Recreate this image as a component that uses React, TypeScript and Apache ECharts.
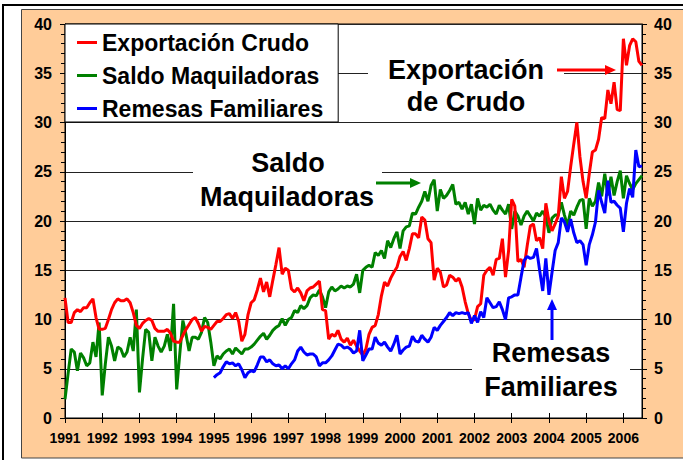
import React, { useEffect, useRef } from 'react';
import * as echarts from 'echarts';

// Year tick labels and months
const years = ['1991', '1992', '1993', '1994', '1995', '1996', '1997', '1998', '1999', '2000', '2001', '2002', '2003', '2004', '2005', '2006'];
const monthCodes = ['01', '02', '03', '04', '05', '06', '07', '08', '09', '10', '11', '12'];
const monthCount = 187; // Jan 1991 .. Jul 2006

// Series names
const seriesNames = ['Exportación Crudo', 'Saldo Maquiladoras', 'Remesas Familiares'];

// Exportación Crudo (monthly, from Jan 1991)
const exportacionCrudo = [
  12.2, 9.7, 9.7, 10.7, 11.0, 10.8, 11.2, 11.2, 11.7, 12.1, 10.2, 9.0,
  9.0, 9.1, 10.0, 11.0, 11.7, 12.1, 11.9, 11.9, 12.1, 11.7, 10.7, 9.4,
  9.1, 9.6, 9.9, 10.1, 9.9, 9.1, 8.8, 8.8, 8.8, 9.0, 8.6, 7.8,
  7.7, 7.7, 8.4, 9.0, 9.5, 10.0, 10.2, 9.6, 8.8, 9.3, 9.2, 9.0,
  9.4, 9.8, 9.8, 10.1, 10.5, 10.6, 10.1, 10.7, 9.8, 7.8, 8.5, 10.5,
  11.7, 12.0, 13.0, 14.2, 12.8, 13.8, 12.3, 14.0, 15.6, 17.3, 14.6, 15.2,
  15.0, 13.1, 12.8, 13.2, 12.7, 11.9, 12.9, 13.2, 13.3, 13.6, 13.9, 11.0,
  10.9, 8.0, 8.5, 8.3, 8.9, 8.0, 7.7, 8.1, 7.4, 7.9, 7.3, 6.8,
  6.4, 7.0, 8.5, 9.2, 9.4, 10.5, 12.4, 13.8, 13.4, 14.2, 14.8, 15.3,
  16.4, 16.9, 16.0, 17.2, 18.7, 18.7, 18.3, 20.4, 20.1, 18.2, 17.8, 14.0,
  15.2, 14.8, 13.3, 13.5, 14.5, 14.3, 13.9, 14.2, 13.3, 11.8, 10.6, 9.9,
  10.0, 11.3, 11.6, 14.5, 15.0, 15.3, 14.5, 16.1, 16.2, 18.2, 14.3, 17.0,
  22.2, 21.5, 15.9, 16.1, 15.3, 17.5, 19.5, 19.7, 18.0, 18.3, 17.2, 21.8,
  20.0, 19.0, 19.7, 20.5, 24.5, 22.3, 23.0, 25.5, 27.8, 30.0, 26.5, 24.0,
  22.3, 24.8, 27.0, 27.2, 28.3, 30.5, 30.4, 33.3, 31.9, 34.1, 31.3, 31.2,
  38.5, 35.8, 37.8, 38.5, 38.2, 36.2, 35.8,
];

// Saldo Maquiladoras (monthly, from Jan 1991)
const saldoMaquiladoras = [
  1.9, 4.5, 7.0, 6.7, 4.8, 6.6, 6.1, 5.3, 5.6, 7.7, 6.2, 9.7,
  2.3, 5.5, 8.2, 7.3, 5.8, 7.2, 7.0, 6.2, 6.7, 8.2, 6.8, 11.0,
  2.6, 6.0, 9.0, 8.7, 5.8, 8.2, 7.3, 6.7, 7.3, 8.5, 6.8, 11.6,
  2.9, 6.5, 9.9, 8.5, 6.8, 8.2, 8.2, 8.0, 8.7, 10.2, 9.7, 7.7,
  5.3, 6.3, 6.0, 6.5, 6.8, 7.0, 6.5, 7.1, 6.8, 6.5, 7.0, 7.0,
  7.2, 7.5, 7.9, 8.3, 8.6, 8.0, 8.4, 8.9, 9.2, 9.4, 10.1, 9.4,
  10.0, 10.2, 10.9, 10.7, 11.4, 11.1, 11.4, 12.2, 12.5, 12.4, 13.0, 12.3,
  11.2, 12.8, 13.3, 12.9, 13.1, 13.4, 13.2, 13.4, 13.3, 13.6, 14.6, 12.7,
  15.0, 15.3, 15.5, 15.3, 16.8, 16.5, 17.0, 16.2, 18.0, 17.3, 18.2, 18.9,
  17.2, 19.0, 19.4, 19.5, 20.8, 20.7, 21.4, 22.0, 23.0, 22.0, 23.6, 24.2,
  21.0, 23.2, 22.3, 22.6, 23.1, 23.7, 21.7, 21.9, 21.2, 21.9, 20.7, 21.7,
  19.7, 22.3, 21.1, 21.6, 21.4, 21.7, 21.1, 20.7, 21.6, 21.1, 20.7, 21.7,
  19.2, 21.0, 20.5, 19.6, 20.5, 21.0, 20.5, 20.0, 20.8, 20.5, 21.0, 20.4,
  18.8, 20.3, 20.6, 20.6, 21.9, 20.6, 19.5, 21.0, 20.6, 21.4, 22.1, 22.2,
  19.2, 22.3, 21.5, 22.0, 23.9, 22.5, 24.8, 22.6, 24.5, 22.6, 24.0, 25.1,
  22.3, 24.6, 23.8, 23.2, 23.8, 24.2, 24.6,
];

// Remesas Familiares (monthly, from Jan 1995)
const remesasStartYear = '1995';
const remesasFamiliares = [
  4.1, 4.4, 4.6, 5.2, 5.7, 5.5, 5.6, 5.3, 5.5, 4.9, 4.1, 4.6,
  4.8, 4.7, 5.4, 6.2, 6.2, 5.7, 5.9, 5.5, 5.3, 5.4, 5.0, 5.3,
  5.0, 5.5, 5.9, 6.8, 7.2, 6.7, 6.4, 6.5, 6.5, 6.2, 5.3, 5.6,
  5.6, 5.9, 6.3, 6.9, 7.5, 7.4, 7.1, 7.2, 7.0, 6.6, 6.8, 8.9,
  5.8, 6.4, 7.0, 7.0, 8.2, 7.6, 7.4, 7.7, 7.2, 6.8, 7.5, 8.4,
  6.5, 6.9, 7.2, 7.3, 8.3, 7.8, 7.7, 8.4, 8.0, 7.7, 8.2, 9.2,
  8.9, 9.4, 9.8, 10.2, 10.7, 10.4, 10.7, 10.6, 10.7, 10.6, 10.7, 9.6,
  10.4, 9.7, 10.8, 10.2, 12.2, 11.7, 11.2, 11.3, 11.8, 11.0, 10.0, 12.2,
  12.3, 12.5, 12.5, 14.3, 16.0, 16.4, 16.2, 16.3, 17.2, 15.0, 12.9, 16.2,
  12.5, 14.8, 17.0, 17.8, 20.3, 19.9, 18.9, 20.2, 18.8, 17.8, 18.0, 17.6,
  15.5, 17.6, 18.6, 19.9, 23.1, 21.9, 20.8, 24.1, 21.9, 22.0, 21.6, 21.3,
  18.9, 21.8, 23.3, 22.4, 27.2, 25.5, 25.6,
];

const yTicks = { min: 0, max: 40, interval: 5 };

const FONT = '"Liberation Sans", Arial, Helvetica, sans-serif';

function buildOption() {
  const categories = years
    .flatMap((y) => monthCodes.map((m) => `${y}-${m}`))
    .slice(0, monthCount);
  const remesasOffset = categories.indexOf(`${remesasStartYear}-01`);
  const remesasData = categories.map((_, i) =>
    i >= remesasOffset ? remesasFamiliares[i - remesasOffset] : null
  );
  const isYearStart = (index: number) => index % 12 === 0;

  const yAxisCommon = {
    type: 'value',
    min: yTicks.min,
    max: yTicks.max,
    interval: yTicks.interval,
    axisLine: { show: true, lineStyle: { color: '#000', width: 1 } },
    axisTick: { show: true, inside: false, length: 5, lineStyle: { color: '#000' } },
    minorTick: { show: true, splitNumber: 5, length: 4, lineStyle: { color: '#000' } },
    axisLabel: { color: '#000', fontSize: 16, fontWeight: 'bold', fontFamily: FONT },
  };

  const annotationText = (text: string, x: number, y: number) => ({
    type: 'text',
    z: 6,
    x,
    y,
    style: {
      text,
      fill: '#000',
      font: `bold 27px ${FONT}`,
      textAlign: 'center',
      textVerticalAlign: 'middle',
      align: 'center',
      verticalAlign: 'middle',
    },
  });

  const whiteBox = (x: number, y: number, w: number, h: number) => ({
    type: 'rect',
    z: 1,
    shape: { x, y, width: w, height: h },
    style: { fill: '#fff' },
    silent: true,
  });

  return {
    animation: false,
    backgroundColor: '#fff',
    grid: {
      left: 65,
      top: 24,
      right: 41,
      bottom: 42,
      show: true,
      backgroundColor: '#fff',
      borderColor: '#000',
      borderWidth: 1,
      containLabel: false,
    },
    legend: {
      data: seriesNames,
      orient: 'vertical',
      left: 65,
      top: 24,
      padding: [7, 15, 2, 12],
      itemGap: 10,
      itemWidth: 20,
      itemHeight: 3,
      icon: 'rect',
      backgroundColor: '#fff',
      borderColor: '#000',
      borderWidth: 1,
      textStyle: { color: '#000', fontSize: 23, fontWeight: 'bold', fontFamily: FONT },
    },
    xAxis: [
      {
        type: 'category',
        data: categories,
        boundaryGap: false,
        axisLine: { show: true, lineStyle: { color: '#000', width: 1 } },
        axisTick: { show: true, inside: false, length: 5, interval: isYearStart, lineStyle: { color: '#000' } },
        axisLabel: {
          interval: isYearStart,
          formatter: (v: string) => v.slice(0, 4),
          color: '#000',
          fontSize: 14,
          fontWeight: 'bold',
          fontFamily: FONT,
          margin: 13,
        },
        splitLine: { show: false },
      },
      {
        type: 'category',
        data: categories,
        boundaryGap: false,
        position: 'bottom',
        axisLine: { show: false },
        axisTick: { show: true, inside: true, length: 5, interval: isYearStart, lineStyle: { color: '#000' } },
        axisLabel: { show: false },
        splitLine: { show: false },
      },
    ],
    yAxis: [
      {
        ...yAxisCommon,
        position: 'left',
        axisLabel: { ...yAxisCommon.axisLabel, margin: 13 },
        splitLine: { show: true, lineStyle: { color: '#222', width: 1 } },
      },
      {
        ...yAxisCommon,
        position: 'right',
        axisLabel: { ...yAxisCommon.axisLabel, margin: 12 },
        splitLine: { show: false },
      },
    ],
    series: [
      {
        name: seriesNames[1],
        type: 'line',
        data: saldoMaquiladoras,
        symbol: 'none',
        color: '#008000',
        lineStyle: { color: '#008000', width: 3 },
        z: 2,
      },
      {
        name: seriesNames[0],
        type: 'line',
        data: exportacionCrudo,
        symbol: 'none',
        color: '#FF0000',
        lineStyle: { color: '#FF0000', width: 3 },
        z: 3,
      },
      {
        name: seriesNames[2],
        type: 'line',
        data: remesasData,
        symbol: 'none',
        color: '#0000FF',
        lineStyle: { color: '#0000FF', width: 3 },
        z: 4,
      },
    ],
    graphic: [
      {
        type: 'rect',
        z: -20,
        silent: true,
        shape: { x: 3, y: 5, width: 720, height: 480 },
        style: { fill: '#fff', stroke: '#000', lineWidth: 2 },
      },
      {
        type: 'rect',
        z: -19,
        silent: true,
        shape: { x: 21.5, y: 9.5, width: 720, height: 448.5 },
        style: { fill: '#FFCC99', stroke: '#444', lineWidth: 1 },
      },
      whiteBox(368, 48, 196, 70),
      whiteBox(193, 143, 189, 72),
      whiteBox(472, 334, 158, 72),
      annotationText('Exportación', 466, 70),
      annotationText('de Crudo', 466, 102),
      annotationText('Saldo', 288, 163),
      annotationText('Maquiladoras', 287, 197),
      annotationText('Remesas', 551, 353),
      annotationText('Familiares', 551, 387),
      // Red arrow
      { type: 'line', z: 6, shape: { x1: 557, y1: 70, x2: 607, y2: 70 }, style: { stroke: '#FF0000', lineWidth: 3 } },
      { type: 'polygon', z: 6, shape: { points: [[605, 65], [616, 70], [605, 75]] }, style: { fill: '#FF0000' } },
      // Green arrow
      { type: 'line', z: 6, shape: { x1: 376, y1: 183, x2: 412, y2: 183 }, style: { stroke: '#008000', lineWidth: 3 } },
      { type: 'polygon', z: 6, shape: { points: [[410, 178], [421, 183], [410, 188]] }, style: { fill: '#008000' } },
      // Blue arrow
      { type: 'line', z: 6, shape: { x1: 552, y1: 340, x2: 552, y2: 308 }, style: { stroke: '#0000FF', lineWidth: 3 } },
      { type: 'polygon', z: 6, shape: { points: [[547, 310], [552, 299], [557, 310]] }, style: { fill: '#0000FF' } },
    ],
  };
}

export default function App() {
  const ref = useRef<HTMLDivElement>(null);
  useEffect(() => {
    if (!ref.current) return;
    const chart = echarts.init(ref.current, null, { renderer: 'svg' });
    chart.setOption(buildOption() as any);
    return () => chart.dispose();
  }, []);
  return (
    <div
      ref={ref}
      style={{ position: 'fixed', left: 0, top: 0, width: 683, height: 460 }}
    />
  );
}
